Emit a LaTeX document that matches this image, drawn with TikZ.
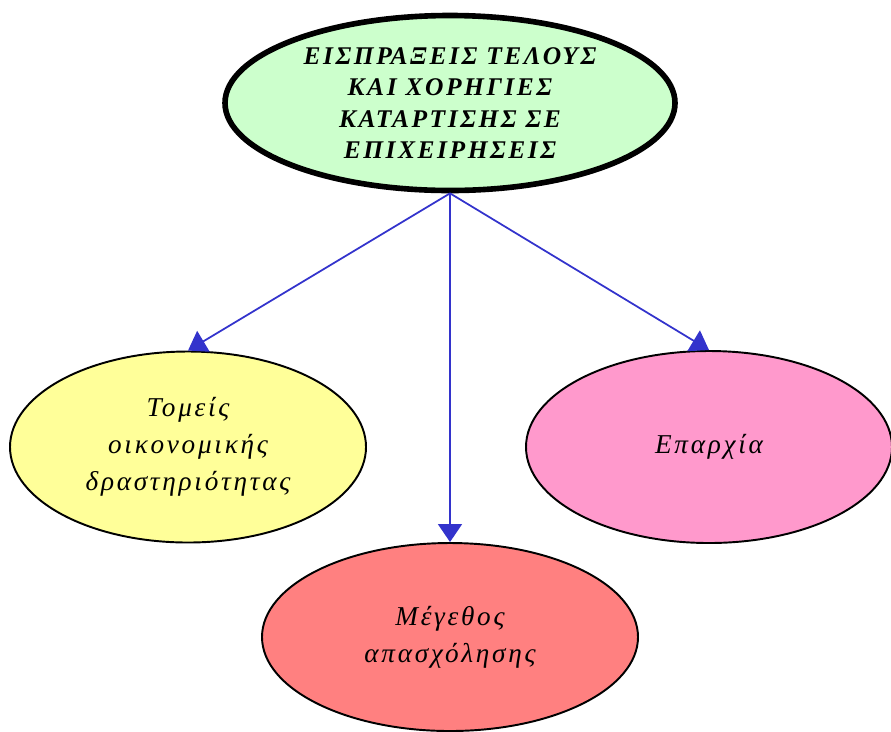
\documentclass[tikz,border=0pt]{standalone}
\usepackage{fontspec}
\setmainfont{Liberation Serif}
\newfontfamily\grfont[LetterSpace=10]{Liberation Serif}
\usetikzlibrary{shapes.geometric,arrows.meta}
\definecolor{topgreen}{HTML}{CCFFCC}
\definecolor{leftyellow}{HTML}{FFFF99}
\definecolor{rightpink}{HTML}{FF99CC}
\definecolor{midred}{HTML}{FF8080}
\definecolor{arrowblue}{HTML}{3333CC}
\begin{document}
\begin{tikzpicture}[x=0.02cm,y=-0.02cm,
        oval/.style={ellipse,draw,line width=1.1pt,inner sep=-4pt,align=center,
            font=\grfont\itshape\fontsize{15.5}{21}\selectfont},
        link/.style={arrowblue,line width=1pt,-{Triangle[length=0.36cm,width=0.48cm]}}]
                    \useasboundingbox(0,0)rectangle(891,731);
                    \node[oval,fill=topgreen,line width=3.2pt,minimum width=450*0.02cm,minimum height=175*0.02cm,
                        font=\grfont\bfseries\itshape\fontsize{14.5}{18}\selectfont](top)at(450,103)
                        {ΕΙΣΠΡΑΞΕΙΣ ΤΕΛΟΥΣ\\ΚΑΙ ΧΟΡΗΓΙΕΣ\\ΚΑΤΑΡΤΙΣΗΣ ΣΕ\\ΕΠΙΧΕΙΡΗΣΕΙΣ};
                    \node[oval,fill=leftyellow,minimum width=356*0.02cm,minimum height=191*0.02cm](sector)at(188,447)
                        {Τομείς\\οικονομικής\\δραστηριότητας};
                    \node[oval,fill=rightpink,minimum width=366*0.02cm,minimum height=192*0.02cm](region)at(709,447)
                        {Επαρχία};
                    \node[oval,fill=midred,minimum width=376*0.02cm,minimum height=188*0.02cm](size)at(450,637)
                        {Μέγεθος\\απασχόλησης};
                    \draw[link](top.south)--(sector.north);
                    \draw[link](top.south)--(size.north);
                    \draw[link](top.south)--(region.north);
                \end{tikzpicture}
\end{document}
